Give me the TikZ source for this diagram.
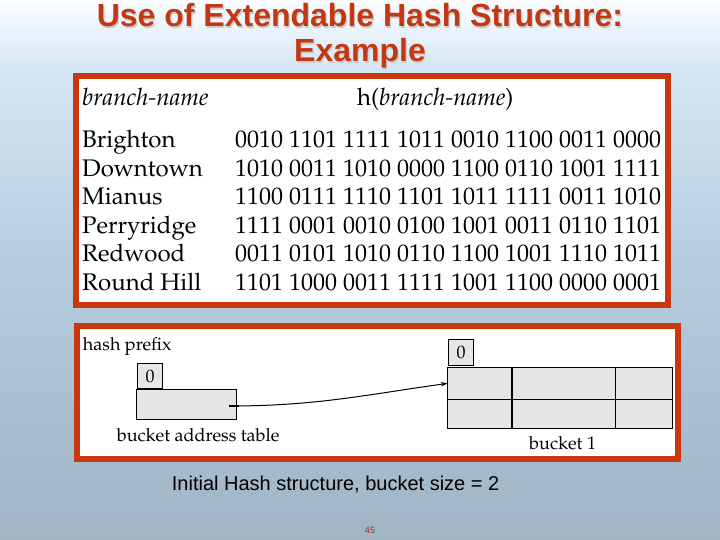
\documentclass[tikz,border=0pt]{standalone}
\usepackage[T1]{fontenc}
\usepackage{fontspec}
\usetikzlibrary{arrows.meta}

\newfontfamily\slidefont{Liberation Sans}
\newcommand\bookfont{\fontencoding{T1}\fontfamily{ppl}\selectfont}

\definecolor{framered}{RGB}{200,56,12}
\definecolor{titlered}{RGB}{194,56,18}
\definecolor{cellgray}{RGB}{230,230,230}
\definecolor{bgtop}{RGB}{252,253,255}
\definecolor{bgupper}{RGB}{214,231,245}
\definecolor{bgmid}{RGB}{182,205,222}
\definecolor{bgbot}{RGB}{160,180,196}

% 100bp shading, the picture spans 25bp..75bp of it
\pgfdeclareverticalshading{slidebg}{100bp}{color(0bp)=(bgbot); color(25bp)=(bgbot); color(51bp)=(bgmid); color(69bp)=(bgupper); color(75bp)=(bgtop); color(100bp)=(bgtop)}

\begin{document}
\begin{tikzpicture}[x=1pt, y=-1pt,
    frame/.style={draw=framered, line width=6pt, fill=white},
    titletext/.style={font=\slidefont\bfseries\fontsize{32}{35}\selectfont, inner sep=0pt, anchor=base},
    listtext/.style={font=\bookfont\fontsize{24}{24}\selectfont, inner sep=0pt, anchor=base west},
    labeltext/.style={font=\bookfont\fontsize{18}{18}\selectfont, inner sep=0pt, anchor=base west},
    prefixbox/.style={draw, line width=1pt, fill=cellgray, inner sep=0pt, anchor=north west,
        minimum width=25.6pt, minimum height=25.6pt, font=\bookfont\fontsize{18}{18}\selectfont},
    cell/.style={draw, line width=0.8pt, fill=cellgray, inner sep=0pt, outer sep=0pt, anchor=north west}]

    % background and frames
    \shade[shading=slidebg] (0,0) rectangle (720,540);
    \useasboundingbox (0,0) rectangle (720,540);
    \draw[frame] (76,75.7) rectangle (668,305);
    \draw[frame] (77,326.3) rectangle (677.7,458.7);

    % title
    \node[titletext, gray!40] (titleshadow1) at (361.2,28.2) {Use of Extendable Hash Structure:};
    \node[titletext, gray!40] (titleshadow2) at (361.2,63.2) {Example};
    \node[titletext, titlered] (title1) at (360,27) {Use of Extendable Hash Structure:};
    \node[titletext, titlered] (title2) at (360,62) {Example};

    % table of hash values
    \node[listtext] (namehead) at (82,106) {\itshape branch-name};
    \node[listtext] (hashhead) at (357,106) {h(\textit{branch-name})};

    \node[listtext] (brighton) at (82,147.7) {Brighton};
    \node[listtext] (downtown) at (82,176.2) {Downtown};
    \node[listtext] (mianus) at (82,204.7) {Mianus};
    \node[listtext] (perryridge) at (82,233.2) {Perryridge};
    \node[listtext] (redwood) at (82,261.7) {Redwood};
    \node[listtext] (roundhill) at (82,290.2) {Round Hill};

    \node[listtext] (hbrighton) at (235,147.7) {0010 1101 1111 1011 0010 1100 0011 0000};
    \node[listtext] (hdowntown) at (235,176.2) {1010 0011 1010 0000 1100 0110 1001 1111};
    \node[listtext] (hmianus) at (235,204.7) {1100 0111 1110 1101 1011 1111 0011 1010};
    \node[listtext] (hperryridge) at (235,233.2) {1111 0001 0010 0100 1001 0011 0110 1101};
    \node[listtext] (hredwood) at (235,261.7) {0011 0101 1010 0110 1100 1001 1110 1011};
    \node[listtext] (hroundhill) at (235,290.2) {1101 1000 0011 1111 1001 1100 0000 0001};

    % bucket address table
    \node[labeltext] (hashprefix) at (82.7,350.7) {hash prefix};
    \node[prefixbox] (tprefix) at (136.7,362.7) {0};
    \node[cell, line width=1pt, minimum width=100pt, minimum height=30pt] (bat) at (136.7,389) {};
    \node[labeltext] (batlabel) at (116.7,441.7) {bucket address table};
    \coordinate (ptr) at (229,406);

    % bucket 1
    \node[prefixbox] (bprefix) at (447.7,339.3) {0};
    \node[cell, minimum width=64.6pt, minimum height=31.3pt] (c11) at (447.7,367.7) {};
    \node[cell, minimum width=103.4pt, minimum height=31.3pt] (c12) at (512.3,367.7) {};
    \node[cell, minimum width=56.6pt, minimum height=31.3pt] (c13) at (615.7,367.7) {};
    \node[cell, minimum width=64.6pt, minimum height=29.3pt] (c21) at (447.7,399) {};
    \node[cell, minimum width=103.4pt, minimum height=29.3pt] (c22) at (512.3,399) {};
    \node[cell, minimum width=56.6pt, minimum height=29.3pt] (c23) at (615.7,399) {};
    \draw[line width=1.8pt] (c11.north east) -- (c21.south east);
    \draw[line width=1.2pt] (c13.north west) -- (c23.south west);
    \draw[line width=1.5pt] (c11.north west) rectangle (c23.south east);
    \node[labeltext] (bucketlabel) at (529,449) {bucket 1};

    % pointer
    \draw[line width=1.8pt] (ptr) -- ++(10,0);
    \draw[line width=1pt, -{Stealth[length=7pt, width=4.5pt]}] (ptr) to[out=0, in=188] (c11.west);

    % caption
    \node[font=\slidefont\fontsize{20}{20}\selectfont, inner sep=0pt, anchor=base west]
        (caption) at (171.7,490) {Initial Hash structure, bucket size = 2};
    \node[font=\slidefont\fontsize{9}{9}\selectfont, text=framered!80!black, inner sep=0pt]
        (pagenum) at (370,530) {45};
\end{tikzpicture}
\end{document}
